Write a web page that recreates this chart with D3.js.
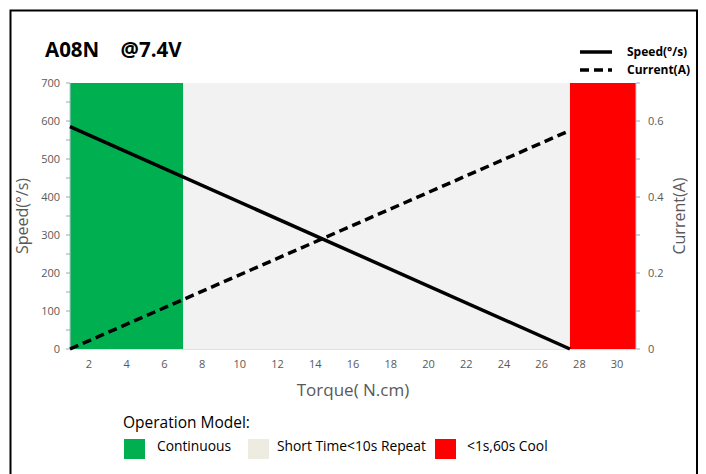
<!DOCTYPE html>
<html><head><meta charset="utf-8">
<script src="https://cdn.jsdelivr.net/npm/d3@7"></script>
<style>body{margin:0;background:#fff}svg{display:block;font-family:"Open Sans","Noto Sans",sans-serif}</style>
</head><body><svg id="c" width="706" height="474"></svg>
<script>
const torque = [1, 27.5];
const speed = [585, 0];
const current = [0, 0.575];
const zones = [
  {name:"Continuous", from:1, to:7, color:"#00b050"},
  {name:"Short Time<10s Repeat", from:7, to:27.5, color:"#f2f2f2"},
  {name:"<1s,60s Cool", from:27.5, to:31, color:"#ff0000"}
];
const legendSwatch = ["#00b050","#eeece1","#ff0000"];
const xTicks = [2,4,6,8,10,12,14,16,18,20,22,24,26,28,30];
const yTicks = [0,100,200,300,400,500,600,700];
const y2Ticks = [0,0.2,0.4,0.6];

const svg = d3.select("#c");
const L=70,R=636,T=83,B=349;
const x = d3.scaleLinear().domain([1,31]).range([L,R]);
const y = d3.scaleLinear().domain([0,700]).range([B,T]);
const y2 = d3.scaleLinear().domain([0,0.7]).range([B,T]);

svg.append("rect").attr("x",10.5).attr("y",10.5).attr("width",686.5).attr("height",480).attr("fill","none").attr("stroke","#000").attr("stroke-width",2);

svg.selectAll("rect.z").data(zones).join("rect").attr("class","z")
  .attr("x",d=>x(d.from)).attr("width",d=>x(d.to)-x(d.from))
  .attr("y",T).attr("height",B-T).attr("fill",d=>d.color);

// left axis
const gl = svg.append("g");
gl.append("line").attr("x1",L).attr("x2",L).attr("y1",T).attr("y2",B).attr("stroke","#b8c4d8");
d3.range(0,701,50).forEach(v=>{
  gl.append("line").attr("x1",L-4).attr("x2",L).attr("y1",y(v)).attr("y2",y(v)).attr("stroke","#9aa8c0");
});
gl.selectAll("text").data(yTicks).join("text").attr("x",L-10).attr("y",d=>y(d)+4)
  .attr("text-anchor","end").attr("font-size",11).attr("fill","#595959").text(d=>d);

// right axis
const gr = svg.append("g");
gr.append("line").attr("x1",R).attr("x2",R).attr("y1",T).attr("y2",B).attr("stroke","#b8c4d8");
d3.range(0,8).forEach(i=>{
  const v=i/10;
  gr.append("line").attr("x1",R).attr("x2",R+4).attr("y1",y2(v)).attr("y2",y2(v)).attr("stroke","#9aa8c0");
});
gr.selectAll("text").data(y2Ticks).join("text").attr("x",R+12).attr("y",d=>y2(d)+4)
  .attr("text-anchor","start").attr("font-size",11).attr("fill","#595959").text(d=>d===0?"0":d.toFixed(1));

// x axis
svg.append("line").attr("x1",L).attr("x2",R).attr("y1",B+0.5).attr("y2",B+0.5).attr("stroke","#e6e0cc");
svg.append("g").selectAll("text").data(xTicks).join("text").attr("x",d=>x(d)).attr("y",B+19)
  .attr("text-anchor","middle").attr("font-size",11).attr("fill","#595959").text(d=>d);

// lines
const pts = torque.map((t,i)=>({t, s:speed[i], c:current[i]}));
svg.append("path").datum(pts).attr("fill","none").attr("stroke","#000").attr("stroke-width",3.5)
  .attr("d", d3.line().x(d=>x(d.t)).y(d=>y(d.s)));
svg.append("path").datum(pts).attr("fill","none").attr("stroke","#000").attr("stroke-width",3.5)
  .attr("stroke-dasharray","9,5")
  .attr("d", d3.line().x(d=>x(d.t)).y(d=>y2(d.c)));

// titles
svg.append("text").attr("x",45).attr("y",57).attr("font-size",20.5).attr("font-weight","bold").attr("fill","#000")
  .attr("xml:space","preserve").text("A08N    @7.4V");
svg.append("text").attr("transform",`translate(28,${(T+B)/2}) rotate(-90)`).attr("text-anchor","middle")
  .attr("font-size",16).attr("fill","#595959").text("Speed(°/s)");
svg.append("text").attr("transform",`translate(685,${(T+B)/2}) rotate(-90)`).attr("text-anchor","middle")
  .attr("font-size",16).attr("fill","#595959").text("Current(A)");
svg.append("text").attr("x",353).attr("y",396).attr("text-anchor","middle")
  .attr("font-size",17).attr("fill","#595959").text("Torque( N.cm)");

// top-right legend
const lg = [{n:"Speed(°/s)",dash:null,yy:52},{n:"Current(A)",dash:"9,5",yy:70}];
lg.forEach(d=>{
  svg.append("line").attr("x1",580).attr("x2",612).attr("y1",d.yy).attr("y2",d.yy).attr("stroke","#000")
    .attr("stroke-width",3.5).attr("stroke-dasharray",d.dash);
  svg.append("text").attr("x",627).attr("y",d.yy+4).attr("font-size",12).attr("font-weight","bold").text(d.n);
});

// bottom legend
svg.append("text").attr("x",123).attr("y",428).attr("font-size",15.5).attr("fill","#000").text("Operation Model:");
const bl = [{sx:124,tx:157},{sx:248,tx:277},{sx:435,tx:467}];
zones.forEach((z,i)=>{
  svg.append("rect").attr("x",bl[i].sx).attr("y",439).attr("width",21).attr("height",20).attr("fill",legendSwatch[i]);
  svg.append("text").attr("x",bl[i].tx).attr("y",451).attr("font-size",13.8).attr("fill","#000").text(z.name);
});
</script></body></html>
